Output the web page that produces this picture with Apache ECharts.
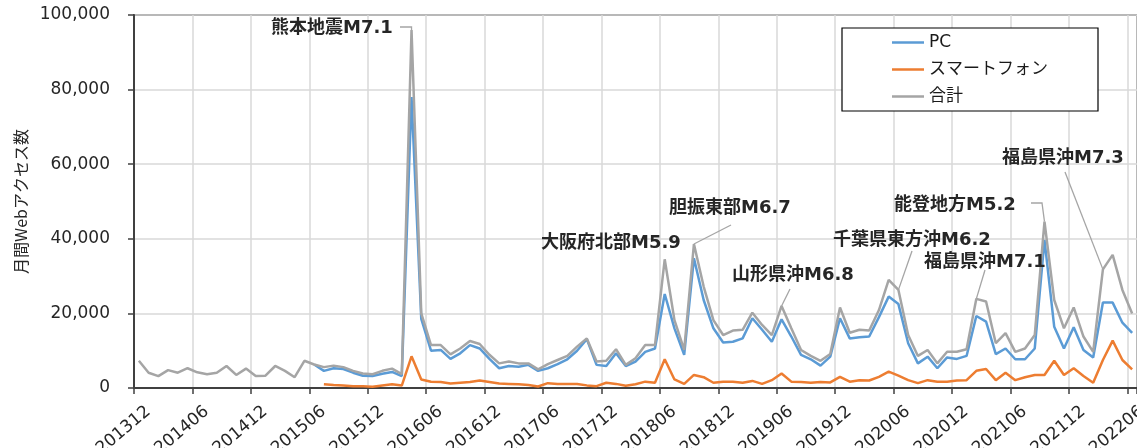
<!DOCTYPE html>
<html><head><meta charset="utf-8">
<script src="https://cdn.jsdelivr.net/npm/echarts@6/dist/echarts.min.js"></script>
<style>html,body{margin:0;padding:0;background:#fff;overflow:hidden}#c{width:1137px;height:448px}</style>
</head><body><div id="c"></div>
<script>
// Categories: monthly, 201312 .. 202206
const months = [];
for (let y = 2013, m = 12; !(y === 2022 && m === 7); ) {
  months.push(y + String(m).padStart(2, '0'));
  m++; if (m > 12) { m = 1; y++; }
}
// Tick labels shown on the x axis (every 6 months)
const xTickLabels = ['201312', '201406', '201412', '201506', '201512', '201606', '201612', '201706', '201712',
  '201806', '201812', '201906', '201912', '202006', '202012', '202106', '202112', '202206'];

const total = [
  7300, 4100, 3200, 4800, 4100, 5300, 4200, 3700, 4100, 5900,
  3500, 5200, 3200, 3300, 5900, 4600, 2900, 7300, 6300, 5600,
  6000, 5600, 4600, 3900, 3700, 4600, 5200, 3700, 96000, 20000,
  11500, 11500, 9000, 10600, 12600, 11800, 8900, 6600, 7100, 6600,
  6600, 5000, 6400, 7500, 8600, 11100, 13300, 7100, 7300, 10400,
  6200, 8000, 11500, 11500, 34500, 18200, 10200, 38600, 27200, 18200,
  14200, 15400, 15600, 20200, 16900, 14200, 22000, 16000, 10200, 8600,
  7300, 9100, 21600, 14800, 15600, 15400, 20900, 29000, 26300, 14200,
  8600, 10200, 6600, 9700, 9700, 10400, 23900, 23200, 12000, 14700,
  9700, 10600, 14200, 44600, 23600, 16000, 21600, 13800, 9700, 31800,
  35700, 26300, 20000
];

const pc = [
  null, null, null, null, null, null, null, null, null, null,
  null, null, null, null, null, null, null, null, 6300, 4600,
  5300, 5100, 4100, 3300, 3200, 3800, 4300, 3200, 78000, 18500,
  10000, 10200, 7800, 9300, 11500, 10600, 7800, 5300, 5900, 5700,
  6200, 4600, 5300, 6400, 7700, 10000, 13100, 6200, 5900, 9300,
  5900, 7100, 9700, 10600, 25200, 16000, 8900, 34800, 23600, 16000,
  12200, 12400, 13300, 18700, 15600, 12400, 18400, 13800, 8900, 7700,
  6000, 8400, 18700, 13300, 13600, 13800, 19000, 24500, 22500, 12000,
  6600, 8400, 5300, 8200, 7800, 8600, 19300, 17800, 9100, 10600,
  7700, 7700, 10600, 39700, 16400, 10600, 16300, 10200, 8200, 22900,
  22900, 17500, 14800
];

const smartphone = [
  null, null, null, null, null, null, null, null, null, null,
  null, null, null, null, null, null, null, null, null, 1000,
  800, 650, 450, 450, 350, 700, 1000, 650, 8500, 2300,
  1700, 1600, 1200, 1400, 1600, 2000, 1600, 1200, 1100, 1000,
  800, 400, 1300, 1100, 1100, 1100, 700, 500, 1400, 1100,
  600, 1000, 1700, 1400, 7700, 2300, 1100, 3500, 2900, 1400,
  1700, 1700, 1400, 1900, 1100, 2100, 3900, 1700, 1600, 1400,
  1600, 1500, 3000, 1700, 2100, 2000, 3000, 4400, 3300, 2100,
  1300, 2100, 1700, 1700, 2000, 2100, 4600, 5100, 2100, 4100,
  2100, 2900, 3500, 3500, 7300, 3500, 5300, 3200, 1400, 7500,
  12700, 7500, 5000
];

const seriesNames = ['PC', 'スマートフォン', '合計'];

// Earthquake annotations
const eventMonths = ['201604', '201806', '201809', '201906', '202006', '202102', '202109', '202203'];
const eventTexts = ['熊本地震M7.1', '大阪府北部M5.9', '胆振東部M6.7', '山形県沖M6.8', '千葉県東方沖M6.2', '福島県沖M7.1', '能登地方M5.2', '福島県沖M7.3'];

// Layout only (pixels): label centers and leader-line start points
const eventLabelPos = [[332, 28], [611, 243], [730, 208], [793, 275], [912, 240], [985, 262], [955, 205], [1063, 158]];
const eventLeaderStart = [[400, 27], null, [731, 225], [790, 289], [912, 251], [985, 270], [1031, 203], [1065, 172]];
const eventLeaderMid = [['peakX', 27], null, null, null, null, null, [1042, 203], null];

const chart = echarts.init(document.getElementById('c'));
const numFont = 'DejaVu Sans';

chart.setOption({
  animation: false,
  backgroundColor: '#fff',
  grid: { left: 134, top: 15, width: 1008, height: 373, show: true, borderColor: '#595959', borderWidth: 2, backgroundColor: 'transparent' },
  legend: {
    data: seriesNames,
    orient: 'vertical',
    left: 842, top: 28,
    padding: [6, 50, 6, 50],
    itemWidth: 32, itemHeight: 2.5, icon: 'rect',
    itemGap: 10,
    backgroundColor: '#fff',
    borderColor: '#000', borderWidth: 1.2,
    textStyle: { fontFamily: '"DejaVu Sans", "Noto Sans CJK JP"', fontSize: 17, color: '#1a1a1a', lineHeight: 17 }
  },
  xAxis: {
    type: 'category',
    data: months,
    boundaryGap: true,
    axisLine: { lineStyle: { color: '#404040', width: 2 } },
    axisTick: { show: true, interval: 5, length: 6, lineStyle: { color: '#404040', width: 1.5 } },
    axisLabel: { show: false },
    splitLine: { show: true, interval: 5, lineStyle: { color: '#d9d9d9', width: 1.5 } }
  },
  yAxis: {
    type: 'value',
    min: 0, max: 100000, interval: 20000,
    name: '月間Webアクセス数',
    nameLocation: 'middle',
    nameGap: 100,
    nameRotate: 90,
    nameTextStyle: { fontFamily: '"Noto Sans CJK JP"', fontSize: 16, color: '#262626' },
    axisLine: { show: true, lineStyle: { color: '#404040', width: 2 } },
    axisTick: { show: true, length: 6, lineStyle: { color: '#404040', width: 1.5 } },
    axisLabel: { margin: 24, fontFamily: numFont, fontSize: 17, color: '#262626' },
    splitLine: { show: true, lineStyle: { color: '#d9d9d9', width: 1.5 } }
  },
  series: [
    { name: seriesNames[0], type: 'line', data: pc, symbol: 'none', lineStyle: { color: '#5B9BD5', width: 2.5 }, itemStyle: { color: '#5B9BD5' }, z: 2 },
    { name: seriesNames[1], type: 'line', data: smartphone, symbol: 'none', lineStyle: { color: '#ED7D31', width: 2.5 }, itemStyle: { color: '#ED7D31' }, z: 3 },
    { name: seriesNames[2], type: 'line', data: total, symbol: 'none', lineStyle: { color: '#A5A5A5', width: 2.5 }, itemStyle: { color: '#A5A5A5' }, z: 4 }
  ]
});

const graphics = [];

// Rotated x-axis tick labels positioned through the category axis
const axisY = chart.convertToPixel({ yAxisIndex: 0 }, 0);
xTickLabels.forEach(lbl => {
  const x = chart.convertToPixel({ xAxisIndex: 0 }, lbl);
  graphics.push({
    type: 'text', x: x + 4, y: axisY + 15, rotation: 40 * Math.PI / 180, z: 50, silent: true,
    style: { text: lbl, font: '17px "DejaVu Sans"', fill: '#262626', align: 'right', verticalAlign: 'top' }
  });
});

// Annotations: text + leader lines ending on the data points (via the chart's scales)
eventMonths.forEach((m, k) => {
  const idx = months.indexOf(m);
  const pt = chart.convertToPixel({ xAxisIndex: 0, yAxisIndex: 0 }, [m, total[idx]]);
  const lp = eventLabelPos[k];
  graphics.push({
    type: 'text', x: lp[0], y: lp[1], z: 100, silent: true,
    style: { text: eventTexts[k], font: 'bold 18px "DejaVu Sans", "Noto Sans CJK JP"', fill: '#262626', align: 'center', verticalAlign: 'middle' }
  });
  const s = eventLeaderStart[k];
  if (s) {
    const pts = [s];
    const mid = eventLeaderMid[k];
    if (mid) pts.push([mid[0] === 'peakX' ? pt[0] : mid[0], mid[1]]);
    pts.push(pt);
    graphics.push({ type: 'polyline', z: 99, silent: true, shape: { points: pts }, style: { stroke: '#A5A5A5', lineWidth: 1.3, fill: null } });
  }
});
chart.setOption({ graphic: graphics });
</script></body></html>
